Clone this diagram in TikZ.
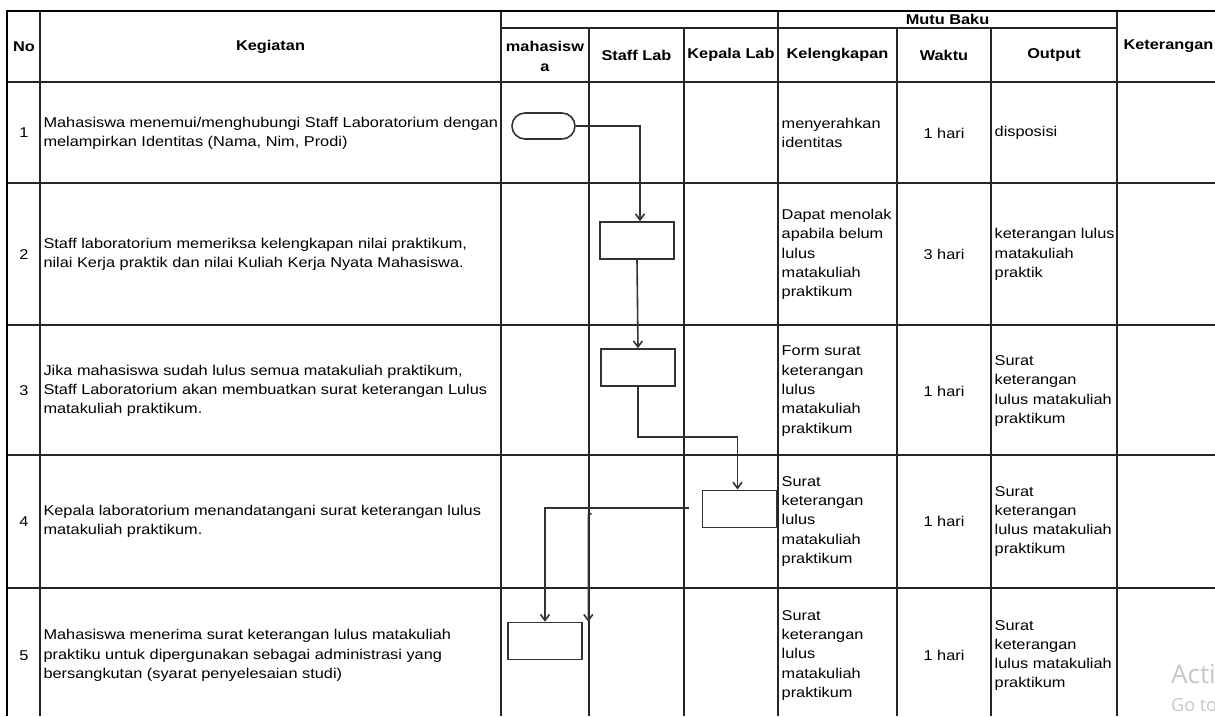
\documentclass[tikz,border=0pt]{standalone}
\usepackage{fontspec}
\setmainfont{Liberation Sans}[FakeStretch=1.15]
\newfontfamily\wmfont{Open Sans}
\usetikzlibrary{arrows.meta}

\begin{document}
\begin{tikzpicture}[x=1pt,y=-1pt,font=\fontsize{14.2}{19.3}\selectfont,
grid/.style={line width=1.5pt,black!85},frame/.style={line width=2.6pt,black},
head/.style={font=\fontsize{14.2}{19.3}\selectfont\bfseries,align=center,inner sep=0pt},
cell/.style={anchor=west,align=left,inner sep=0pt},num/.style={inner sep=0pt},
stepbox/.style={draw=black!80,line width=1.6pt,minimum width=74pt,minimum height=37pt,inner sep=0pt},
flow/.style={line width=1.6pt,black!80,-{Straight Barb[length=6pt,width=9pt,line width=1.6pt]}},
wm/.style={anchor=base west,inner sep=0pt,text=black!22}]
\useasboundingbox (0,0) rectangle (1215,716);
\fill[white] (0,0) rectangle (1215,716);
\clip (0,0) rectangle (1215,716);
% table rules
\foreach \y in {82,183,325,455,588} \draw[grid] (7,\y)--(1215,\y);
\draw[grid] (501,28)--(1117,28);
\foreach \x in {40,501,778,1117} \draw[grid] (\x,11)--(\x,716);
\foreach \x in {589,684,897,991} \draw[grid] (\x,28)--(\x,716);
\draw[frame] (7,716)--(7,11)--(1215,11);
% header
\node[head] (hno) at (24,46.5) {No};
\node[head] (hkeg) at (270.5,46.5) {Kegiatan};
\node[head] (hmutu) at (947.5,19.5) {Mutu Baku};
\node[head] (hmhs) at (545,56.5) {mahasisw\\a};
\node[head] (hstaff) at (636.5,55) {Staff Lab};
\node[head] (hkepala) at (731,55) {Kepala Lab};
\node[head] (hkel) at (837.5,55) {Kelengkapan};
\node[head] (hwaktu) at (944,55) {Waktu};
\node[head] (hout) at (1054,55) {Output};
\node[head] (hket) at (1168.5,46.5) {Keterangan};
% row 1
\node[num] (no1) at (24,133) {1};
\node[cell] (keg1) at (43.3,133) {Mahasiswa menemui/menghubungi Staff Laboratorium dengan\\melampirkan Identitas (Nama, Nim, Prodi)};
\node[cell] (kel1) at (781.5,133) {menyerahkan\\identitas};
\node[num] (wkt1) at (944,133) {1 hari};
\node[cell] (out1) at (994.5,133) {disposisi};
% row 2
\node[num] (no2) at (24,254.5) {2};
\node[cell] (keg2) at (43.3,254.5) {Staff laboratorium memeriksa kelengkapan nilai praktikum,\\nilai Kerja praktik dan nilai Kuliah Kerja Nyata Mahasiswa.};
\node[cell] (kel2) at (781.5,254.5) {Dapat menolak\\apabila belum\\lulus\\matakuliah\\praktikum};
\node[num] (wkt2) at (944,254.5) {3 hari};
\node[cell] (out2) at (994.5,254.5) {keterangan lulus\\matakuliah\\praktik};
% row 3
\node[num] (no3) at (24,391) {3};
\node[cell] (keg3) at (43.3,391) {Jika mahasiswa sudah lulus semua matakuliah praktikum,\\Staff Laboratorium akan membuatkan surat keterangan Lulus\\matakuliah praktikum.};
\node[cell] (kel3) at (781.5,391) {Form surat\\keterangan\\lulus\\matakuliah\\praktikum};
\node[num] (wkt3) at (944,391) {1 hari};
\node[cell] (out3) at (994.5,391) {Surat\\keterangan\\lulus matakuliah\\praktikum};
% row 4
\node[num] (no4) at (24,521.5) {4};
\node[cell] (keg4) at (43.3,521.5) {Kepala laboratorium menandatangani surat keterangan lulus\\matakuliah praktikum.};
\node[cell] (kel4) at (781.5,521.5) {Surat\\keterangan\\lulus\\matakuliah\\praktikum};
\node[num] (wkt4) at (944,521.5) {1 hari};
\node[cell] (out4) at (994.5,521.5) {Surat\\keterangan\\lulus matakuliah\\praktikum};
% row 5
\node[num] (no5) at (24,655.5) {5};
\node[cell] (keg5) at (43.3,655.5) {Mahasiswa menerima surat keterangan lulus matakuliah\\praktiku untuk dipergunakan sebagai administrasi yang\\bersangkutan (syarat penyelesaian studi)};
\node[cell] (kel5) at (781.5,655.5) {Surat\\keterangan\\lulus\\matakuliah\\praktikum};
\node[num] (wkt5) at (944,655.5) {1 hari};
\node[cell] (out5) at (994.5,655.5) {Surat\\keterangan\\lulus matakuliah\\praktikum};
% flow
\node[stepbox,minimum width=63pt,minimum height=26pt,rounded corners=13pt] (start) at (543.5,126) {};
\node[stepbox] (b2) at (637,240.5) {};
\node[stepbox] (b3) at (638,367.5) {};
\node[stepbox] (b4) at (739.5,508.8) {};
\node[stepbox] (b5) at (545,641) {};
\coordinate (turn3) at (638,437);
\coordinate (ret4) at (689,508);
\coordinate (hook) at (591.5,513.5);
\coordinate (drop) at (588.3,515);
\draw[flow] (start.east) -| ([xshift=3pt]b2.north);
\draw[flow] (b2.south) -- (b3.north);
\draw[flow] (b3.south) -- (turn3) -| ([xshift=-2pt]b4.north);
\draw[flow] (ret4) -| (b5.north);
\draw[flow] (hook) -- (drop) -- (drop |- b5.north);
% watermark
\node[wm,font=\wmfont\fontsize{26}{26}\selectfont] (wm1) at (1171,683) {Acti};
\node[wm,font=\wmfont\fontsize{18}{18}\selectfont] (wm2) at (1171,711) {Go to};
\end{tikzpicture}
\end{document}
